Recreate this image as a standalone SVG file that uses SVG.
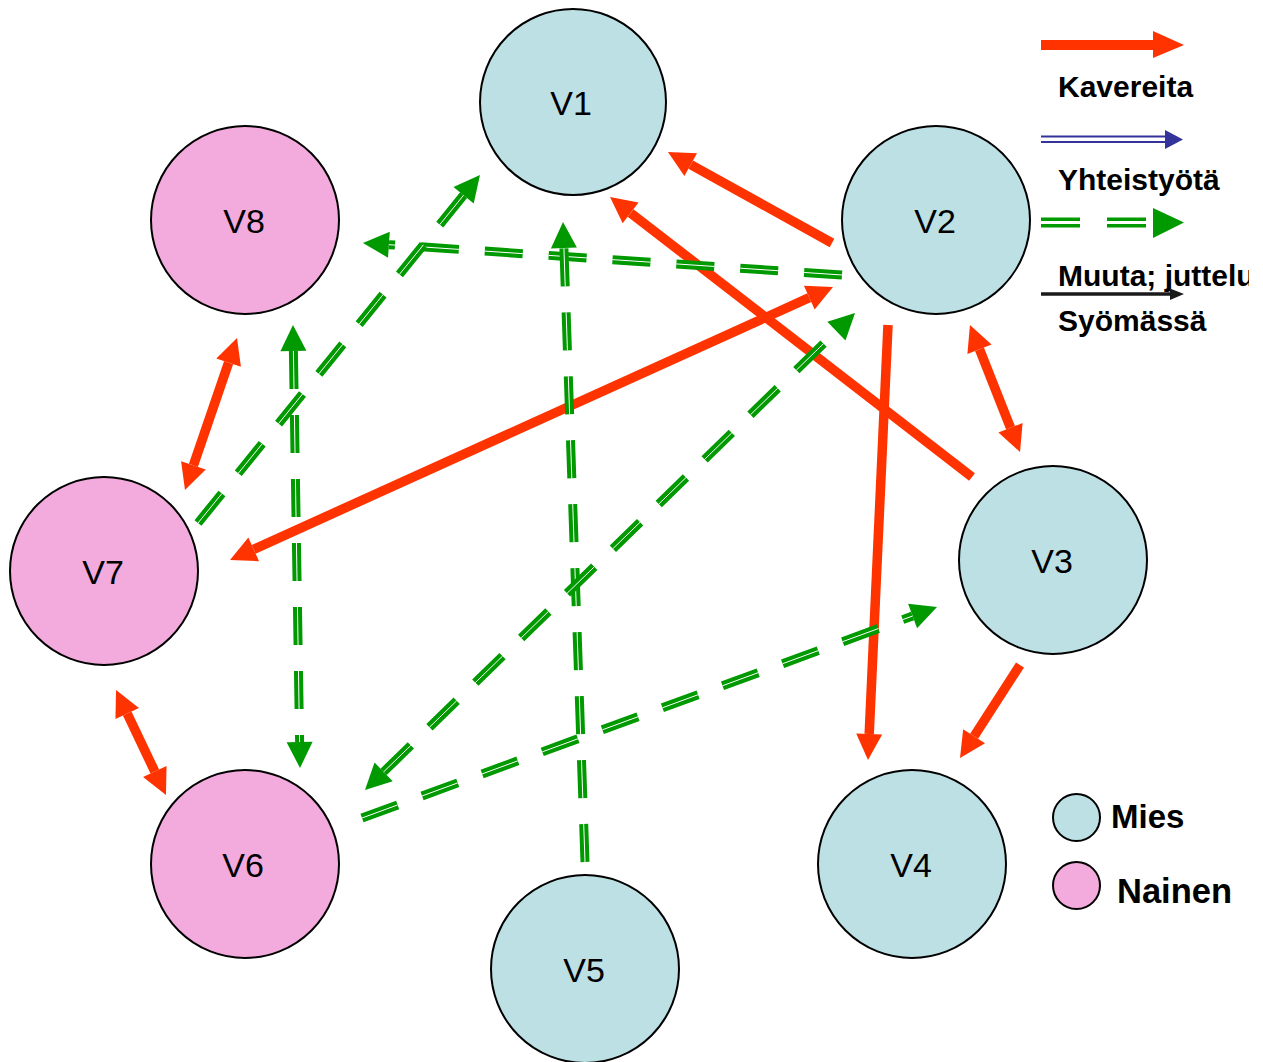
<svg xmlns="http://www.w3.org/2000/svg" width="1263" height="1062" viewBox="0 0 1263 1062">
  <style>
    .node circle { stroke: #000; stroke-width: 2; }
    .mies { fill: #BCE0E3; }
    .nainen { fill: #F3AADC; }
    .label { font-family: "Liberation Sans", Arial, sans-serif; font-size: 34px; fill: #000; text-anchor: middle; }
    .legend-text { font-family: "Liberation Sans", Arial, sans-serif; font-size: 30px; font-weight: bold; fill: #000; }
    .red { fill: none; stroke: #FF3300; stroke-width: 9.5; }
    .green { fill: none; stroke: #009900; stroke-width: 9; stroke-dasharray: 38 26; }
    .green-core { fill: none; stroke: #FFFFFF; stroke-width: 1; stroke-dasharray: 38 26; }
    .red.end, .red.both { marker-end: url(#headRed); }
    .red.both { marker-start: url(#headRed); }
    .green.end, .green.both { marker-end: url(#headGreen); }
    .green.both { marker-start: url(#headGreen); }
  </style>
  <defs>
    <marker id="headRed" viewBox="0 -13 26 26" refX="0" refY="0" markerWidth="26" markerHeight="26" markerUnits="userSpaceOnUse" orient="auto-start-reverse" overflow="visible">
      <path d="M0,-13 L26,0 L0,13 z" fill="#FF3300"/>
    </marker>
    <marker id="headGreen" viewBox="0 -13 26 26" refX="0" refY="0" markerWidth="26" markerHeight="26" markerUnits="userSpaceOnUse" orient="auto-start-reverse" overflow="visible">
      <path d="M0,-13 L26,0 L0,13 z" fill="#009900"/>
    </marker>
    <clipPath id="legendClip">
      <rect x="1030" y="250" width="219" height="60"/>
    </clipPath>
  </defs>

  <rect width="1263" height="1062" fill="#FFFFFF"/>

  <!-- people -->
  <g id="nodes">
    <g id="V1" class="node"><circle class="mies" cx="573" cy="102" r="93"/><text class="label" x="571" y="115">V1</text></g>
    <g id="V2" class="node"><circle class="mies" cx="936" cy="220" r="94"/><text class="label" x="935" y="233">V2</text></g>
    <g id="V3" class="node"><circle class="mies" cx="1053" cy="560" r="94"/><text class="label" x="1052" y="573">V3</text></g>
    <g id="V4" class="node"><circle class="mies" cx="912" cy="864" r="94"/><text class="label" x="911" y="877">V4</text></g>
    <g id="V5" class="node"><circle class="mies" cx="585" cy="969" r="94"/><text class="label" x="584" y="982">V5</text></g>
    <g id="V6" class="node"><circle class="nainen" cx="245" cy="864" r="94"/><text class="label" x="243" y="877">V6</text></g>
    <g id="V7" class="node"><circle class="nainen" cx="104" cy="571" r="94"/><text class="label" x="103" y="584">V7</text></g>
    <g id="V8" class="node"><circle class="nainen" cx="245" cy="220" r="94"/><text class="label" x="244" y="233">V8</text></g>
  </g>

  <!-- relations -->
  <g id="connectors">
    <!-- Kavereita -->
    <path id="V2-V1" class="red end" d="M832,243 L690.7,164.6"/>
    <path id="V3-V1" class="red end" d="M972,477 L630.6,212.9"/>
    <path id="V7-V2" class="red both" d="M253.7,549.3 L809.3,297.7"/>
    <path id="V2-V4" class="red end" d="M888,325 L869.2,734"/>
    <path id="V2-V3" class="red both" d="M979.5,349.2 L1010.5,427.8"/>
    <path id="V3-V4" class="red end" d="M1020,665 L974.1,736.2"/>
    <path id="V8-V7" class="red both" d="M228.6,362.6 L193.4,465.4"/>
    <path id="V7-V6" class="red both" d="M127.2,713.5 L154.8,771.5"/>
    <!-- Muuta; juttelu -->
    <g id="V2-V8"><path class="green end" d="M842,275 L388.9,244.7"/><path class="green-core" d="M842,275 L388.9,244.7"/></g>
    <g id="V7-V1"><path class="green end" d="M198,523 L463.6,195.2"/><path class="green-core" d="M198,523 L463.6,195.2"/></g>
    <g id="V5-V1"><path class="green end" d="M585,862 L563.9,248"/><path class="green-core" d="M585,862 L563.9,248"/></g>
    <g id="V8-V6"><path class="green both" d="M293.4,351 L299.6,742"/><path class="green-core" d="M293.4,351 L299.6,742"/></g>
    <g id="V6-V2"><path class="green both" d="M383.6,771.9 L836.4,331.1"/><path class="green-core" d="M383.6,771.9 L836.4,331.1"/></g>
    <g id="V6-V3"><path class="green end" d="M362,818 L912.6,616"/><path class="green-core" d="M362,818 L912.6,616"/></g>
  </g>

  <!-- legend -->
  <g id="legend">
    <rect x="1041" y="40" width="113" height="10" fill="#FF3300"/>
    <polygon points="1153,31 1184,45 1153,58" fill="#FF3300"/>
    <text class="legend-text" x="1058" y="97">Kavereita</text>

    <line x1="1041" y1="136.5" x2="1168" y2="136.5" stroke="#333399" stroke-width="2.2"/>
    <line x1="1041" y1="142" x2="1168" y2="142" stroke="#333399" stroke-width="2.2"/>
    <polygon points="1165,130 1183,139.5 1165,149" fill="#333399"/>
    <text class="legend-text" x="1058" y="190">Yhteistyötä</text>

    <rect x="1041" y="217.5" width="39" height="3.5" fill="#009900"/>
    <rect x="1041" y="224" width="39" height="3.5" fill="#009900"/>
    <rect x="1107" y="217.5" width="39" height="3.5" fill="#009900"/>
    <rect x="1107" y="224" width="39" height="3.5" fill="#009900"/>
    <polygon points="1153,208 1184,222.5 1153,238" fill="#009900"/>

    <text class="legend-text" x="1058" y="286" clip-path="url(#legendClip)">Muuta; juttelu</text>
    <line x1="1041" y1="294" x2="1172" y2="294" stroke="#1A1A1A" stroke-width="3.5"/>
    <polygon points="1170,288.5 1184,294 1170,300" fill="#1A1A1A"/>
    <text class="legend-text" x="1058" y="331">Syömässä</text>

    <circle class="mies" cx="1076.5" cy="817.5" r="23.5" stroke="#000" stroke-width="2"/>
    <text class="legend-text" x="1111" y="828" style="font-size:33px">Mies</text>
    <circle class="nainen" cx="1076.5" cy="885.5" r="23.5" stroke="#000" stroke-width="2"/>
    <text class="legend-text" x="1117" y="903" style="font-size:34.5px">Nainen</text>
  </g>
</svg>
